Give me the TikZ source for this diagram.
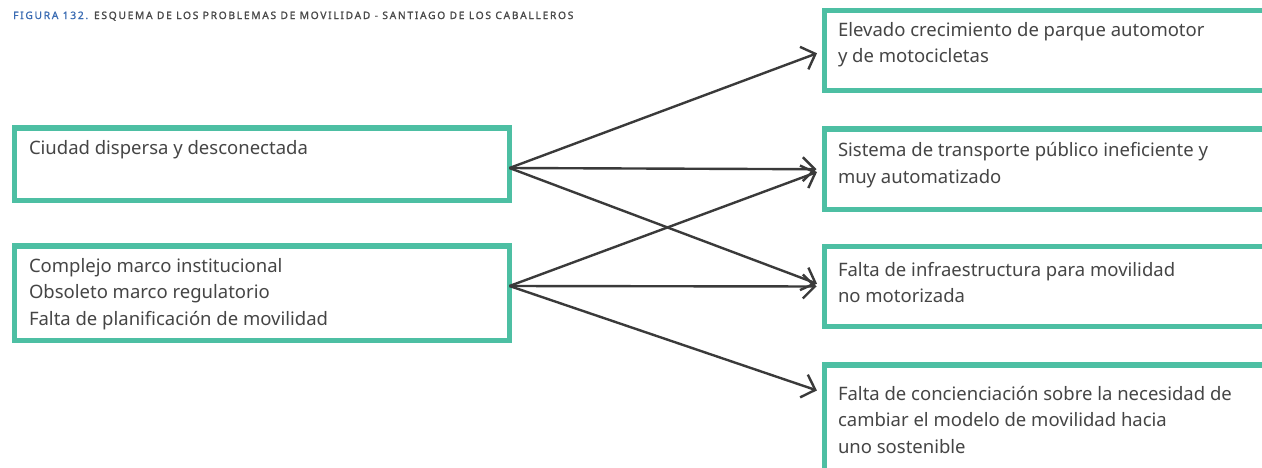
\documentclass[tikz,border=0pt]{standalone}
\usepackage{fontspec}
\setmainfont{Noto Sans}
\newfontfamily\captionfamily{Noto Sans}[LetterSpace=17, FakeBold=1.3]
\usetikzlibrary{arrows.meta}
\definecolor{boxgreen}{HTML}{4DBFA3}
\definecolor{arrgray}{HTML}{3A3A3A}
\definecolor{txtgray}{HTML}{454545}
\definecolor{titleblue}{HTML}{3B6CB3}
\definecolor{titlegray}{HTML}{4A4A4A}
\newcommand\bxc[5]{\parbox[c][#1][t]{#2}{\raggedright\leftskip=#3\relax\rule{0pt}{#4}\ignorespaces#5}}
\begin{document}
\begin{tikzpicture}[x=1pt,y=-1pt,
  box/.style={draw=boxgreen, line width=5.5pt, rectangle, inner sep=0pt, outer sep=0pt,
    anchor=north west, text=txtgray, font=\fontsize{18.5}{26.7}\selectfont},
  conn/.style={draw=arrgray, line width=2.4pt,
    -{Straight Barb[length=12pt,width=24pt]}, shorten >=8pt}]
\useasboundingbox (0,0) rectangle (1262,467);
\clip (0,0) rectangle (1262,467);
\fill[white] (0,0) rectangle (1262,467);
\node[anchor=base west, inner sep=0pt, text=titlegray,
  font=\captionfamily\fontsize{10.2}{12}\selectfont] (title) at (13,19)
  {\textcolor{titleblue}{FIGURA 132.} ESQUEMA DE LOS PROBLEMAS DE MOVILIDAD - SANTIAGO DE LOS CABALLEROS};
\node[box] (l1) at (14.5,128) {\bxc{72.5pt}{495pt}{14.5pt}{26pt}{Ciudad dispersa y desconectada}};
\node[box] (l2) at (14.5,246) {\bxc{94.5pt}{495pt}{14.5pt}{26pt}{Complejo marco institucional\\Obsoleto marco regulatorio\\Falta de planificación de movilidad}};
\node[box] (r1) at (824.5,10.5) {\bxc{80pt}{470pt}{13.5pt}{25.5pt}{Elevado crecimiento de parque automotor\\y de motocicletas}};
\node[box] (r2) at (824.5,129) {\bxc{80.5pt}{470pt}{13.5pt}{27.5pt}{Sistema de transporte público ineficiente y\\muy automatizado}};
\node[box] (r3) at (824.5,246.5) {\bxc{80pt}{470pt}{13.5pt}{29.5pt}{Falta de infraestructura para movilidad\\no motorizada}};
\node[box] (r4) at (824.5,365) {\bxc{160pt}{470pt}{13.5pt}{35pt}{Falta de concienciación sobre la necesidad de\\cambiar el modelo de movilidad hacia\\uno sostenible}};
\draw[conn] ([yshift=-3.75pt]l1.east) -- (r1.west);
\draw[conn] ([yshift=-3.75pt]l1.east) -- (r2.west);
\draw[conn] ([yshift=-3.75pt]l1.east) -- (r3.west);
\draw[conn] ([yshift=7.25pt]l2.east) -- (r2.west);
\draw[conn] ([yshift=7.25pt]l2.east) -- (r3.west);
\draw[conn] ([yshift=7.25pt]l2.east) -- ([yshift=-28pt]r4.north west);
\end{tikzpicture}
\end{document}
